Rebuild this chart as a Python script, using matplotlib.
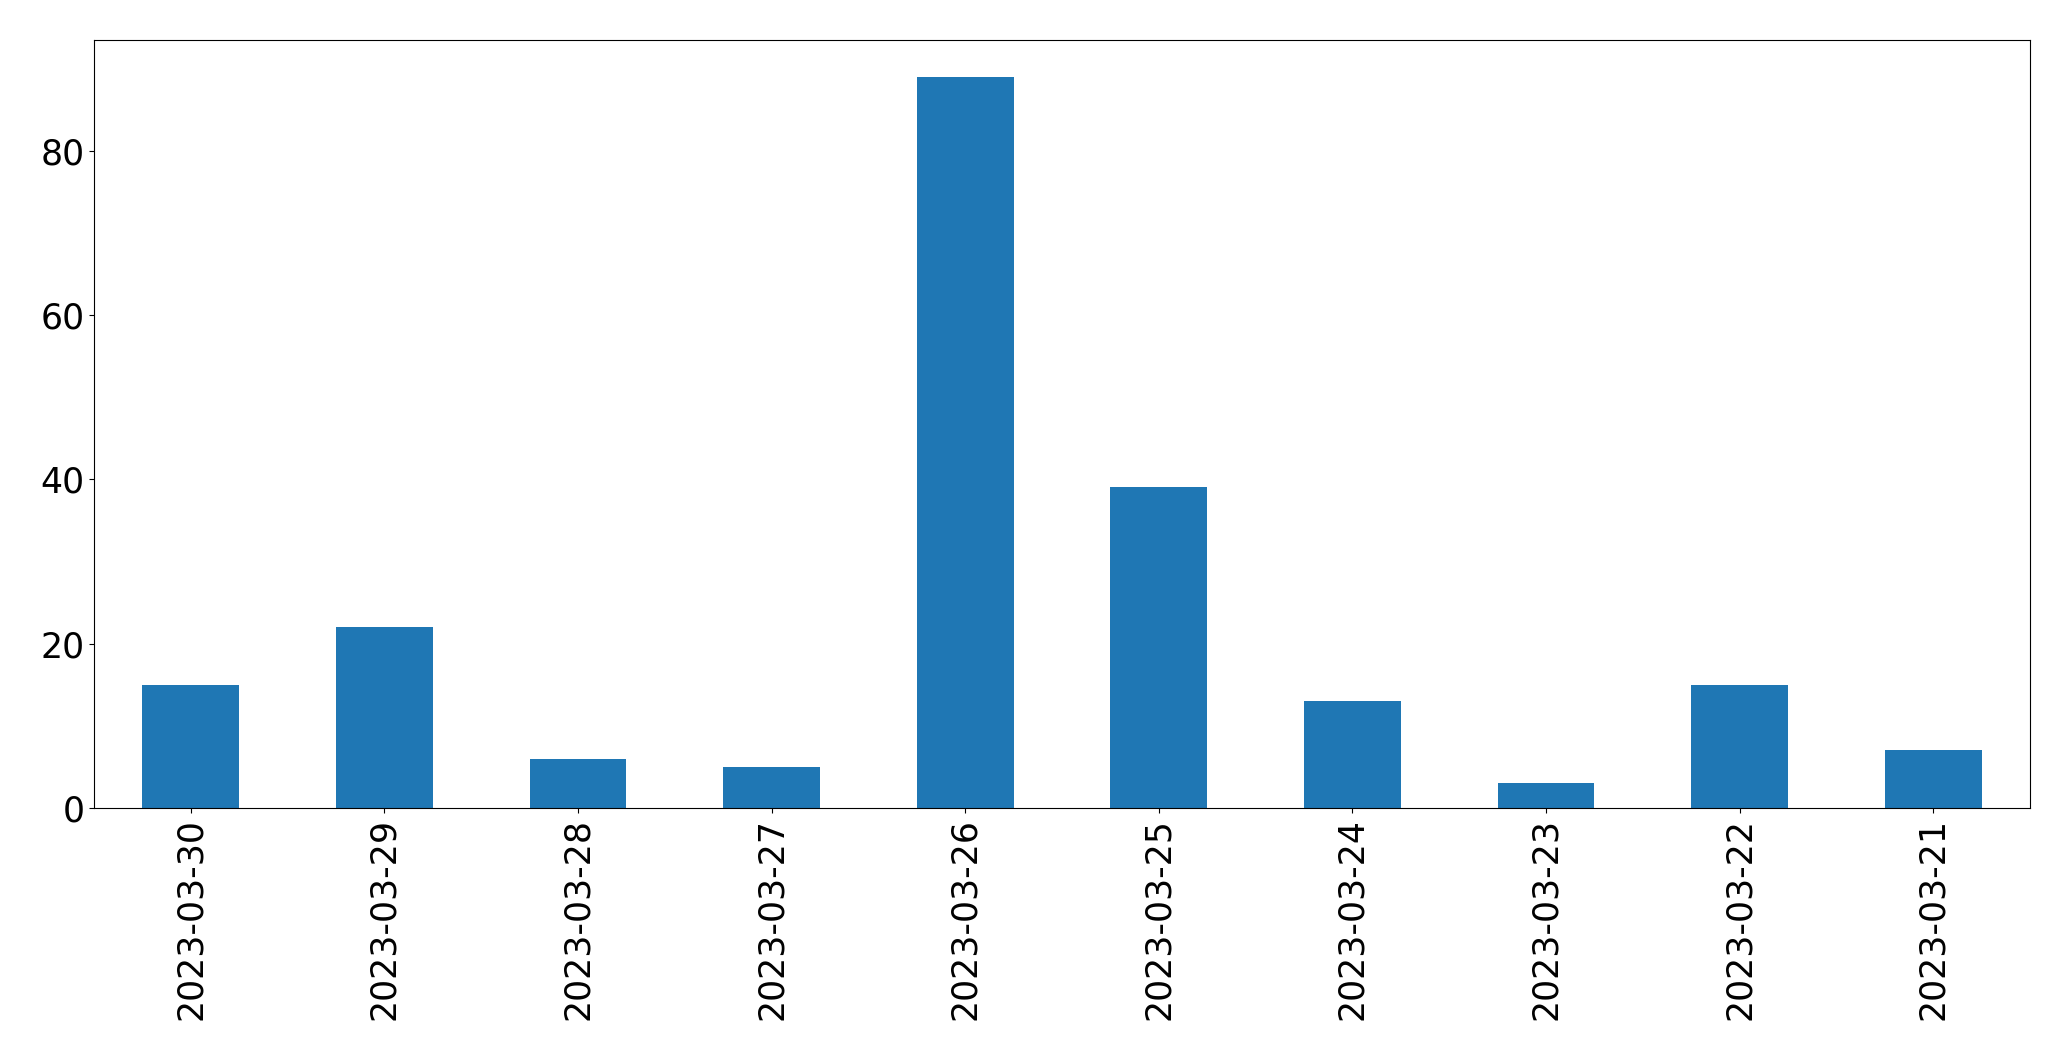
import matplotlib
matplotlib.use('Agg')
import matplotlib.pyplot as plt
import pandas as pd

# Dados
dates = ['2023-03-30', '2023-03-29', '2023-03-28', '2023-03-27', '2023-03-26',
         '2023-03-25', '2023-03-24', '2023-03-23', '2023-03-22', '2023-03-21']
counts = [15, 22, 6, 5, 89, 39, 13, 3, 15, 7]

series = pd.Series(counts, index=dates)

fig, ax = plt.subplots(figsize=(20.71, 10.61), dpi=100)
series.plot(kind='bar', ax=ax, color='#1f77b4')
ax.tick_params(axis='both', labelsize=25)

fig.subplots_adjust(left=0.0454, right=0.9802, top=0.9623, bottom=0.2385)
fig.savefig('out.png', dpi=100)
